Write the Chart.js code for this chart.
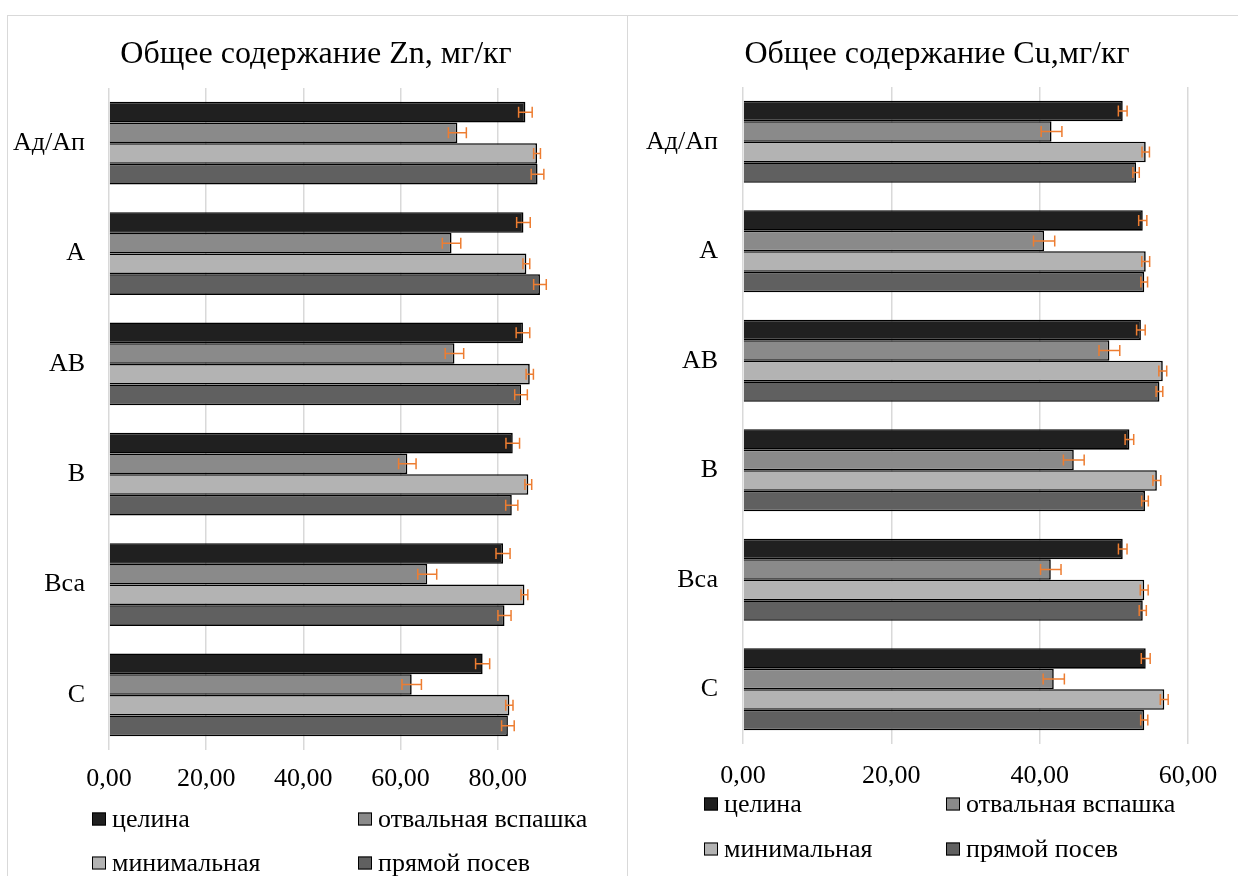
<!DOCTYPE html>
<html><head><meta charset="utf-8">
<script src="https://cdn.jsdelivr.net/npm/chart.js@4.4.0/dist/chart.umd.min.js"></script>
<style>
body{margin:0;background:#fff;width:1238px;height:876px;overflow:hidden;position:relative;}
.panel{position:absolute;border:1.5px solid #d9d9d9;background:#fff;box-sizing:border-box}
#p1{left:7px;top:15px;width:621px;height:900px}
#p2{left:627px;top:15px;width:640px;height:900px}
.cw{position:absolute}
#w1{left:8px;top:17px;width:618px;height:860px}
#w2{left:628px;top:17px;width:610px;height:860px}
</style></head><body>
<div class="panel" id="p1"></div>
<div class="panel" id="p2"></div>
<div class="cw" id="w1"><canvas id="c1" width="618" height="860"></canvas></div>
<div class="cw" id="w2"><canvas id="c2" width="610" height="860"></canvas></div>
<script>
const categories = ['Ад/Ап','А','АВ','В','Вса','С'];
const seriesNames = ['целина','отвальная вспашка','минимальная','прямой посев'];

const znVirgin  = [85.7, 85.3, 85.2, 83.1, 81.1, 76.9];
const znPlough  = [71.7, 70.5, 71.1, 61.4, 65.5, 62.3];
const znMinimal = [88.1, 85.9, 86.6, 86.3, 85.5, 82.4];
const znDirect  = [88.2, 88.7, 84.8, 82.9, 81.4, 82.1];
const znVirginErr  = [1.4, 1.4, 1.4, 1.4, 1.45, 1.45];
const znPloughErr  = [1.85, 1.9, 1.9, 1.8, 1.95, 2.0];
const znMinimalErr = [0.7, 0.7, 0.75, 0.7, 0.7, 0.75];
const znDirectErr  = [1.3, 1.3, 1.3, 1.25, 1.35, 1.3];

const cuVirgin  = [51.2, 53.9, 53.65, 52.1, 51.2, 54.3];
const cuPlough  = [41.6, 40.6, 49.4, 44.6, 41.5, 41.9];
const cuMinimal = [54.3, 54.3, 56.6, 55.8, 54.1, 56.8];
const cuDirect  = [53.0, 54.1, 56.15, 54.2, 53.9, 54.1];
const cuVirginErr  = [0.59, 0.55, 0.58, 0.58, 0.58, 0.6];
const cuPloughErr  = [1.4, 1.43, 1.4, 1.4, 1.38, 1.43];
const cuMinimalErr = [0.5, 0.53, 0.53, 0.53, 0.53, 0.53];
const cuDirectErr  = [0.43, 0.45, 0.45, 0.45, 0.48, 0.48];

const znTicks = [0, 20, 40, 60, 80];
const cuTicks = [0, 20, 40, 60];

const titleZn = 'Общее содержание Zn, мг/кг';
const titleCu = 'Общее содержание Cu,мг/кг';

const seriesColors = ['#202020', '#8a8a8a', '#b3b3b3', '#606060'];
const FONT = '"Liberation Serif", "Times New Roman", serif';

const errorBarPlugin = {
  id: 'errorBars',
  afterDatasetsDraw(chart) {
    const ctx = chart.ctx;
    const xs = chart.scales.x;
    ctx.save();
    ctx.strokeStyle = '#ED7D31';
    ctx.lineWidth = 1.5;
    chart.data.datasets.forEach((ds, di) => {
      const meta = chart.getDatasetMeta(di);
      meta.data.forEach((el, i) => {
        const v = ds.data[i], e = ds.errors[i];
        const x1 = xs.getPixelForValue(v - e), x2 = xs.getPixelForValue(v + e);
        const y = el.y, h = 5.5;
        ctx.beginPath();
        ctx.moveTo(x1, y); ctx.lineTo(x2, y);
        ctx.moveTo(x1, y - h); ctx.lineTo(x1, y + h);
        ctx.moveTo(x2, y - h); ctx.lineTo(x2, y + h);
        ctx.stroke();
      });
    });
    ctx.restore();
  }
};

const titlePlugin = {
  id: 'centerTitle',
  afterDraw(chart, args, opts) {
    const ctx = chart.ctx;
    ctx.save();
    ctx.font = opts.fontSize + 'px ' + FONT;
    ctx.fillStyle = '#000';
    ctx.textAlign = 'center';
    ctx.textBaseline = 'middle';
    ctx.fillText(opts.text, chart.width / 2 + (opts.dx || 0), opts.y);
    ctx.restore();
  }
};

const legendPlugin = {
  id: 'gridLegend',
  afterDraw(chart, args, opts) {
    const ctx = chart.ctx;
    ctx.save();
    ctx.font = opts.fontSize + 'px ' + FONT;
    ctx.textBaseline = 'middle';
    ctx.textAlign = 'left';
    chart.data.datasets.forEach((ds, i) => {
      const col = i % 2, row = Math.floor(i / 2);
      const bx = opts.cols[col], y = opts.rows[row];
      ctx.fillStyle = ds.backgroundColor;
      ctx.fillRect(bx, y - 6.5, 14, 13);
      ctx.strokeStyle = '#000';
      ctx.lineWidth = 1;
      ctx.strokeRect(bx + 0.5, y - 6.5 + 0.5, 13, 12);
      ctx.fillStyle = '#000';
      ctx.fillText(ds.label, bx + opts.textGap, y + 1);
    });
    ctx.restore();
  }
};

function makeChart(id, title, series, errs, ticks, max, geo) {
  const datasets = series.map((d, i) => ({
    label: seriesNames[i],
    data: d,
    errors: errs[i],
    backgroundColor: seriesColors[i],
    borderColor: '#000',
    borderWidth: 1.6,
    categoryPercentage: 0.75,
    barPercentage: 1.0
  }));
  return new Chart(document.getElementById(id), {
    type: 'bar',
    data: { labels: categories, datasets },
    plugins: [errorBarPlugin, titlePlugin, legendPlugin],
    options: {
      indexAxis: 'y',
      responsive: false,
      animation: false,
      layout: { padding: { top: geo.top, left: 0, right: geo.right, bottom: 0 } },
      plugins: {
        legend: { display: false },
        tooltip: { enabled: false },
        title: { display: false },
        centerTitle: { text: title, fontSize: 32, y: 38, dx: geo.titleDx },
        gridLegend: { fontSize: 26, cols: geo.legCols, rows: geo.legRows, textGap: 20 }
      },
      scales: {
        x: {
          min: 0, max: max,
          afterBuildTicks(s) { s.ticks = ticks.map(v => ({ value: v })); },
          afterFit(s) { s.height = geo.xHeight; },
          grid: { color: '#d9d9d9', lineWidth: 1.5, drawTicks: false },
          border: { display: false },
          ticks: {
            color: '#000', padding: geo.xPad,
            font: { family: FONT, size: 26 },
            callback: v => Number(v).toFixed(2).replace('.', ',')
          }
        },
        y: {
          afterFit(s) { s.width = geo.yWidth; },
          grid: { display: false, drawTicks: false },
          border: { display: false },
          ticks: { color: '#000', padding: geo.yPad, font: { family: FONT, size: 26 } }
        }
      }
    }
  });
}

makeChart('c1', titleZn,
  [znVirgin, znPlough, znMinimal, znDirect],
  [znVirginErr, znPloughErr, znMinimalErr, znDirectErr],
  znTicks, 92,
  { top: 71, right: 70, titleDx: -1, xHeight: 127, xPad: 14, yWidth: 101, yPad: 24,
    legCols: [84, 350], legRows: [802, 846] });

makeChart('c2', titleCu,
  [cuVirgin, cuPlough, cuMinimal, cuDirect],
  [cuVirginErr, cuPloughErr, cuMinimalErr, cuDirectErr],
  cuTicks, 60,
  { top: 70, right: 50, titleDx: 4, xHeight: 133, xPad: 17, yWidth: 115, yPad: 25,
    legCols: [76, 318], legRows: [787, 832] });
</script>
</body></html>
